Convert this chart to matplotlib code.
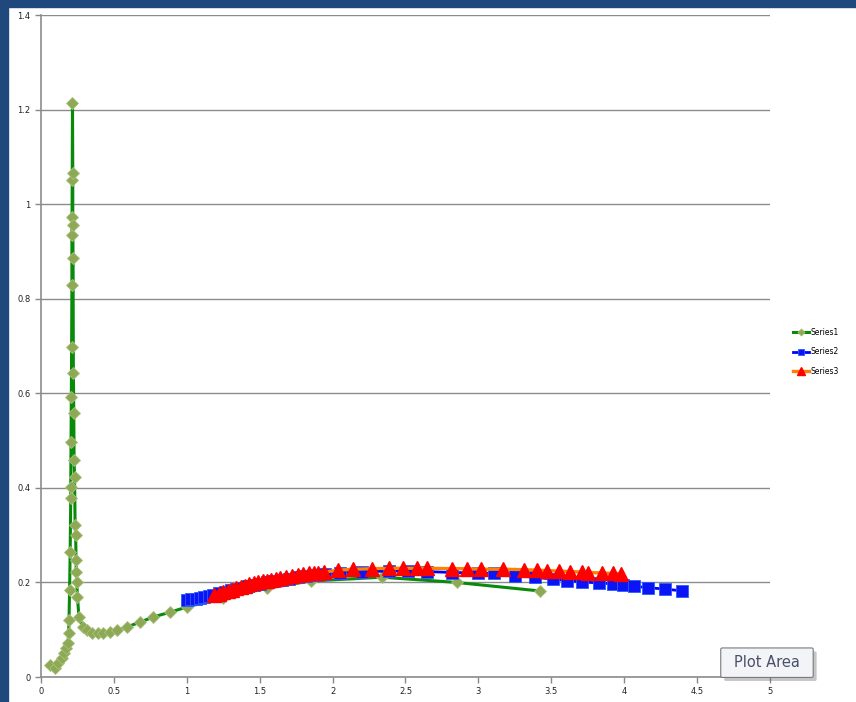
import matplotlib.pyplot as plt
from matplotlib.patches import Rectangle, FancyBboxPatch

# Series1: sharp peak near x=0.2, then a slow hump
s1_x = [0.062, 0.096, 0.117, 0.144, 0.158, 0.171, 0.185, 0.19, 0.192, 0.196, 0.2, 0.204,
        0.204, 0.206, 0.208, 0.21, 0.212, 0.212, 0.213, 0.214, 0.216,
        0.218, 0.218, 0.22, 0.222, 0.225, 0.227, 0.23, 0.234, 0.238, 0.24, 0.242, 0.245, 0.25,
        0.26, 0.288, 0.316, 0.35, 0.39, 0.425, 0.473, 0.52, 0.59, 0.68, 0.77, 0.885, 1.0,
        1.25, 1.55, 1.85, 2.34, 2.85, 3.42]
s1_y = [0.025, 0.019, 0.03, 0.04, 0.05, 0.061, 0.072, 0.093, 0.12, 0.184, 0.264, 0.378,
        0.402, 0.497, 0.592, 0.698, 0.829, 0.935, 0.973, 1.051, 1.214,
        1.066, 0.956, 0.886, 0.643, 0.558, 0.459, 0.423, 0.321, 0.300, 0.247, 0.222, 0.201, 0.17,
        0.127, 0.106, 0.099, 0.093, 0.093, 0.093, 0.095, 0.099, 0.106, 0.116, 0.127, 0.137, 0.148,
        0.168, 0.188, 0.203, 0.211, 0.2, 0.182]

s2_x = [1.0, 1.03, 1.06, 1.09, 1.12, 1.15, 1.18, 1.22, 1.26, 1.30, 1.34, 1.38, 1.42, 1.46,
        1.50, 1.55, 1.60, 1.65, 1.70, 1.76, 1.82, 1.88, 1.95, 2.05, 2.2, 2.39, 2.52, 2.65,
        2.82, 3.0, 3.11, 3.25, 3.39, 3.51, 3.61, 3.71, 3.83, 3.92, 3.99, 4.07, 4.16, 4.28, 4.40]
s2_y = [0.162, 0.164, 0.166, 0.168, 0.170, 0.172, 0.174, 0.177, 0.180, 0.183, 0.186, 0.189,
        0.192, 0.195, 0.197, 0.200, 0.203, 0.206, 0.208, 0.211, 0.213, 0.215, 0.217, 0.220,
        0.223, 0.224, 0.224, 0.223, 0.221, 0.220, 0.219, 0.214, 0.211, 0.207, 0.204, 0.201,
        0.199, 0.197, 0.195, 0.192, 0.189, 0.186, 0.182]

s3_x = [1.19, 1.22, 1.25, 1.28, 1.31, 1.34, 1.37, 1.40, 1.43, 1.46, 1.49, 1.52, 1.55, 1.58,
        1.61, 1.64, 1.68, 1.72, 1.76, 1.80, 1.84, 1.87, 1.90, 1.94, 2.04, 2.14, 2.27, 2.39,
        2.48, 2.58, 2.65, 2.82, 2.92, 3.02, 3.17, 3.31, 3.40, 3.47, 3.55, 3.63, 3.71, 3.75,
        3.85, 3.92, 3.98]
s3_y = [0.173, 0.176, 0.179, 0.182, 0.185, 0.188, 0.191, 0.193, 0.196, 0.198, 0.200, 0.202,
        0.204, 0.206, 0.208, 0.210, 0.212, 0.214, 0.216, 0.218, 0.219, 0.220, 0.221, 0.222,
        0.226, 0.228, 0.229, 0.230, 0.230, 0.230, 0.230, 0.229, 0.229, 0.228, 0.228, 0.227,
        0.226, 0.225, 0.224, 0.223, 0.222, 0.221, 0.220, 0.219, 0.218]

x_ticks = [0, 0.5, 1, 1.5, 2, 2.5, 3, 3.5, 4, 4.5, 5]
x_labels = ["0", "0.5", "1", "1.5", "2", "2.5", "3", "3.5", "4", "4.5", "5"]
y_ticks = [0, 0.2, 0.4, 0.6, 0.8, 1, 1.2, 1.4]
y_labels = ["0", "0.2", "0.4", "0.6", "0.8", "1", "1.2", "1.4"]

fig = plt.figure(figsize=(8.56, 7.02), dpi=100)
# dark blue window frame on top and left
fig.patches.append(Rectangle((0, 0.99), 1, 0.01, transform=fig.transFigure, color="#1f497d", zorder=0))
fig.patches.append(Rectangle((0, 0), 0.0095, 1, transform=fig.transFigure, color="#1f497d", zorder=0))

ax = fig.add_axes([0.0479, 0.0356, 0.8516, 0.943])
ax.plot(s1_x, s1_y, color="#0a8a0a", lw=2.2, marker="D", ms=6,
        mfc="#8da955", mec="#a9c07a", mew=0.6, label="Series1", zorder=3)
ax.plot(s2_x, s2_y, color="#0000ff", lw=2, marker="s", ms=8,
        mfc="#0a14f5", mec="#2a5cff", mew=0.6, label="Series2", zorder=4)
ax.plot(s3_x, s3_y, color="#ff7f00", lw=2.4, marker="^", ms=10,
        mfc="#ff0000", mec="#ff0000", label="Series3", zorder=5)

ax.set_xlim(0, 5)
ax.set_ylim(0, 1.4)
ax.set_xticks(x_ticks, x_labels)
ax.set_yticks(y_ticks, y_labels)
ax.tick_params(labelsize=6, colors="#888888", labelcolor="#222222", length=4, width=1)
ax.grid(axis="y", color="#8c8c8c", lw=1)
ax.set_axisbelow(True)
for s in ["top", "right"]:
    ax.spines[s].set_visible(False)
for s in ["left", "bottom"]:
    ax.spines[s].set_color("#8c8c8c")
    ax.spines[s].set_linewidth(1.2)

fig.legend(loc="center left", bbox_to_anchor=(0.918, 0.499), frameon=False,
           fontsize=5.5, handlelength=2.2, handletextpad=0.1, labelspacing=1.4,
           markerscale=0.6)

# "Plot Area" tooltip
fig.patches.append(FancyBboxPatch((0.848, 0.032), 0.104, 0.038, boxstyle="round,pad=0.002",
                                  transform=fig.transFigure, fc="#5a5a5a", ec="none", alpha=0.35))
fig.patches.append(FancyBboxPatch((0.844, 0.037), 0.104, 0.038, boxstyle="round,pad=0.002",
                                  transform=fig.transFigure, fc="#f3f4f8", ec="#7a7a7a", lw=0.8))
fig.text(0.896, 0.056, "Plot Area", ha="center", va="center", fontsize=10.5, color="#4a4f6a")

fig.savefig("out.png", dpi=100)
